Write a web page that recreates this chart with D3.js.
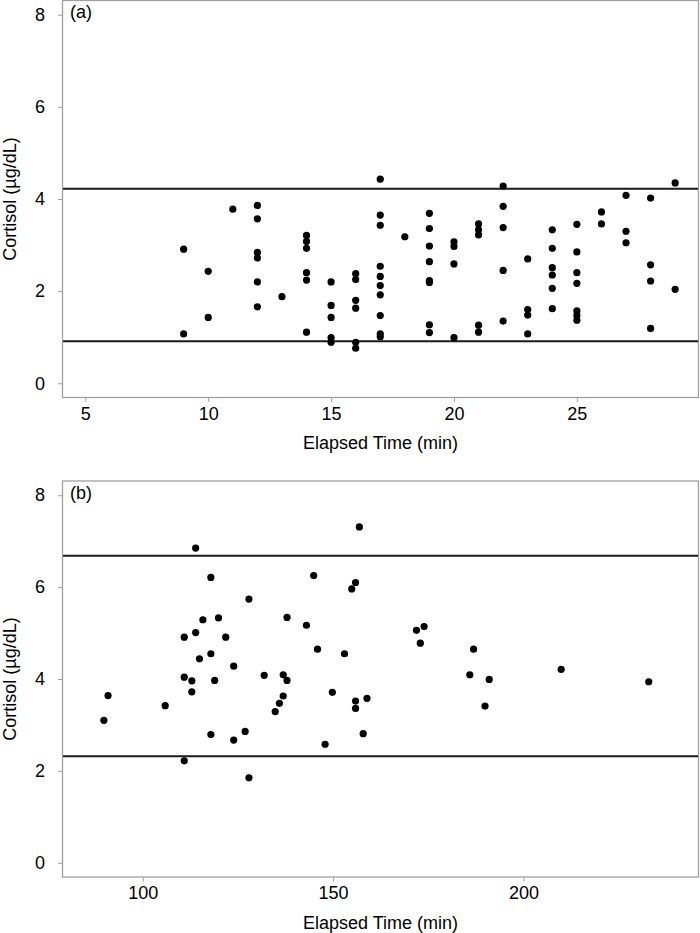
<!DOCTYPE html>
<html>
<head>
<meta charset="utf-8">
<script src="https://cdn.jsdelivr.net/npm/d3@7"></script>
<style>
  body { margin: 0; background: #fff; }
  svg { display: block; font-family: Arial, "Liberation Sans", sans-serif; }
</style>
</head>
<body>
<div id="chart"></div>
<script>
// panel (a): elapsed minute columns and the cortisol readings in each
const minutesA = [9, 10, 11, 12, 13, 14, 15, 16, 17, 18, 19, 20, 21, 22, 23, 24, 25, 26, 27, 28, 29];
const cortisolA = [
  [2.91, 1.07],
  [2.43, 1.43],
  [3.78],
  [3.86, 3.57, 2.84, 2.72, 2.20, 1.66],
  [1.88],
  [3.21, 3.08, 2.93, 2.40, 2.24, 1.11],
  [2.20, 1.69, 1.43, 0.99, 0.89],
  [2.38, 2.25, 1.80, 1.63, 0.89, 0.76],
  [4.43, 3.65, 3.43, 2.54, 2.32, 2.12, 1.92, 1.47, 1.07, 1.01],
  [3.18],
  [3.69, 3.36, 2.98, 2.64, 2.23, 2.19, 1.27, 1.10],
  [3.07, 2.97, 2.59, 0.99],
  [3.46, 3.33, 3.22, 1.26, 1.11],
  [4.28, 3.84, 3.38, 2.45, 1.35],
  [2.70, 1.60, 1.48, 1.07],
  [3.33, 2.93, 2.51, 2.35, 2.06, 1.62],
  [3.45, 2.85, 2.40, 2.17, 1.57, 1.47, 1.37],
  [3.72, 3.46],
  [4.08, 3.30, 3.05],
  [4.02, 2.57, 2.22, 1.19],
  [4.35, 2.04]
];
const limitsA = [0.91, 4.22];

// panel (b)
const minutesB = [89.8, 90.9, 105.9, 110.9, 110.9, 110.9, 112.9, 112.9, 113.9, 113.9, 114.9, 115.8, 117.9, 117.9, 117.9, 118.9, 119.9, 121.8, 123.9, 123.9, 126.9, 127.9, 127.9, 131.9, 134.8, 135.9, 136.9, 136.9, 137.9, 137.9, 143.0, 144.9, 145.9, 147.9, 149.8, 153.0, 154.9, 155.9, 155.9, 155.9, 156.9, 157.9, 158.9, 171.9, 172.9, 173.9, 185.9, 186.9, 189.9, 191.0, 209.9, 232.9];
const cortisolB = [3.10, 3.64, 3.42, 4.91, 4.04, 2.22, 3.96, 3.72, 6.85, 5.01, 4.44, 5.29, 6.21, 4.55, 2.79, 3.97, 5.33, 4.91, 4.28, 2.67, 2.86, 5.74, 1.85, 4.08, 3.29, 3.47, 4.09, 3.63, 5.34, 3.97, 5.17, 6.25, 4.65, 2.58, 3.71, 4.55, 5.96, 6.10, 3.52, 3.36, 7.31, 2.81, 3.58, 5.06, 4.78, 5.14, 4.09, 4.65, 3.41, 3.99, 4.21, 3.94];
const limitsB = [2.32, 6.68];

const yTicks = [0, 2, 4, 6, 8];
const xTicksA = [5, 10, 15, 20, 25];
const xTicksB = [100, 150, 200];

const width = 700;
const height = 933;

const svg = d3.select('#chart')
  .append('svg')
  .attr('width', width)
  .attr('height', height);

const pointsA = minutesA.flatMap((m, i) => cortisolA[i].map(v => ({ t: m, v: v })));
const pointsB = minutesB.map((m, i) => ({ t: m, v: cortisolB[i] }));

function panel(opts) {
  const left = 62, right = 699;
  const x = d3.scaleLinear().domain(opts.xDomain).range([left, right]);
  const y = d3.scaleLinear().domain([-0.32, 8.32]).range([opts.bottom, opts.top]);
  const g = svg.append('g');

  g.append('rect')
    .attr('x', left + 0.5)
    .attr('y', opts.top + 0.5)
    .attr('width', right - left - 1)
    .attr('height', opts.bottom - opts.top - 1)
    .attr('fill', 'none')
    .attr('stroke', '#a0a0a0')
    .attr('stroke-width', 1.3);

  const yAxis = g.append('g')
    .attr('transform', `translate(${left},0)`)
    .call(d3.axisLeft(y).tickValues(yTicks).tickSize(4).tickPadding(13));
  const xAxis = g.append('g')
    .attr('transform', `translate(0,${opts.bottom})`)
    .call(d3.axisBottom(x).tickValues(opts.xTicks).tickSize(4).tickPadding(5));
  [xAxis, yAxis].forEach(a => {
    a.select('.domain').remove();
    a.selectAll('line').attr('stroke', '#a0a0a0');
    a.selectAll('text').attr('font-size', '18px').attr('fill', '#000')
      .attr('font-family', 'Arial, "Liberation Sans", sans-serif');
  });

  g.selectAll('line.limit')
    .data(opts.limits)
    .join('line')
      .attr('class', 'limit')
      .attr('x1', left + 1)
      .attr('x2', right - 1)
      .attr('y1', d => y(d))
      .attr('y2', d => y(d))
      .attr('stroke', '#1a1a1a')
      .attr('stroke-width', 2);

  g.selectAll('circle')
    .data(opts.points)
    .join('circle')
      .attr('cx', d => x(d.t))
      .attr('cy', d => y(d.v))
      .attr('r', 3.6)
      .attr('fill', '#000');

  g.append('text')
    .attr('x', 70)
    .attr('y', opts.top + 18)
    .attr('font-size', '18px')
    .text(opts.tag);

  g.append('text')
    .attr('x', (left + right) / 2)
    .attr('y', opts.bottom + 51)
    .attr('text-anchor', 'middle')
    .attr('font-size', '18px')
    .text('Elapsed Time (min)');

  g.append('text')
    .attr('transform', `translate(16,${(opts.top + opts.bottom) / 2}) rotate(-90)`)
    .attr('text-anchor', 'middle')
    .attr('font-size', '18px')
    .text('Cortisol (µg/dL)');
}

panel({ top: 0, bottom: 398, xDomain: [4.05, 29.97], xTicks: xTicksA, limits: limitsA, points: pointsA, tag: '(a)' });
panel({ top: 480.5, bottom: 877.5, xDomain: [78.8, 246.1], xTicks: xTicksB, limits: limitsB, points: pointsB, tag: '(b)' });
</script>
</body>
</html>
